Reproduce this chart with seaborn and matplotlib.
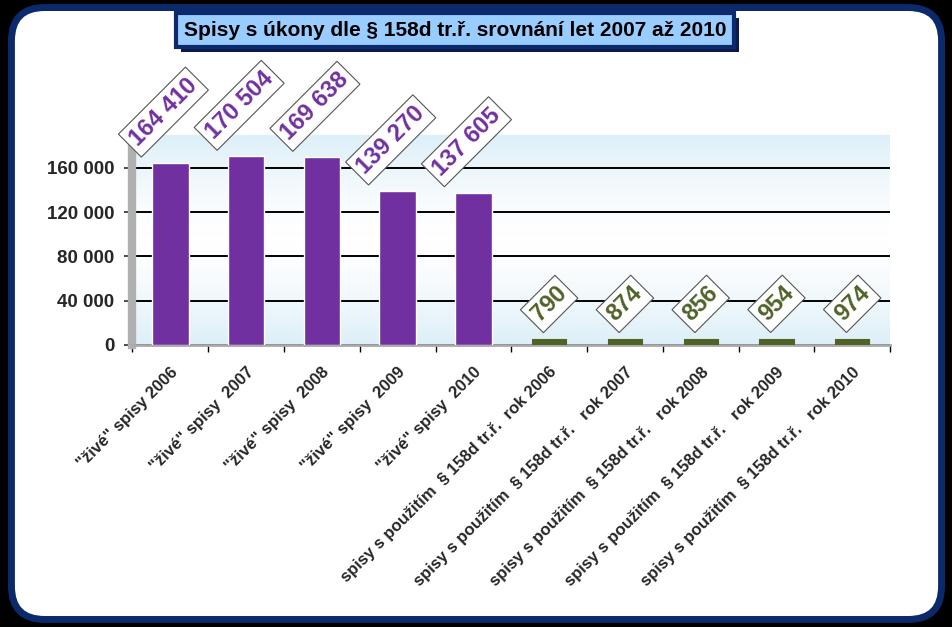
import matplotlib
matplotlib.use("Agg")
import matplotlib.pyplot as plt
from matplotlib.patches import FancyBboxPatch, Rectangle
from matplotlib.ticker import FixedLocator, FuncFormatter
import numpy as np
import pandas as pd
import seaborn as sns

# data
kategorie = [
    '"živé" spisy 2006',
    '"živé" spisy  2007',
    '"živé" spisy  2008',
    '"živé" spisy  2009',
    '"živé" spisy  2010',
    'spisy s použitím  § 158d tr.ř.  rok 2006',
    'spisy s použitím  § 158d tr.ř.   rok 2007',
    'spisy s použitím  § 158d tr.ř.   rok 2008',
    'spisy s použitím  § 158d tr.ř.   rok 2009',
    'spisy s použitím  § 158d tr.ř.   rok 2010',
]
hodnoty = [164410, 170504, 169638, 139270, 137605, 790, 874, 856, 954, 974]
skupina = ["živé"] * 5 + ["158d"] * 5
popisky = ["164 410", "170 504", "169 638", "139 270", "137 605",
           "790", "874", "856", "954", "974"]
y_ticky = [0, 40000, 80000, 120000, 160000]

titulek = "Spisy s úkony dle § 158d tr.ř. srovnání let 2007 až 2010"

FIALOVA = "#7030A0"
ZELENA = "#4F6228"
barvy = {"živé": FIALOVA, "158d": ZELENA}

df = pd.DataFrame({"kategorie": kategorie, "hodnota": hodnoty, "skupina": skupina})

sns.set_theme(style="white")
plt.rcParams["font.family"] = ["Liberation Sans", "DejaVu Sans"]

W, H = 953, 627
fig = plt.figure(figsize=(W / 100, H / 100), dpi=100, facecolor="black")

# rounded white panel
panel = FancyBboxPatch((0.012, 0.012), 0.976, 0.976,
                       boxstyle="round,pad=0,rounding_size=0.035",
                       transform=fig.transFigure, fc="white", ec="#0B2A6B",
                       lw=5, zorder=-10, mutation_aspect=W / H)
fig.patches.append(panel)

ax = fig.add_axes([0.139, 0.45, 0.795, 0.335])
ax.set_facecolor("none")
ax.set_zorder(2)

# light blue gradient wall
grad = np.abs(np.linspace(-1, 1, 200)).reshape(-1, 1) ** 1.5
ax.imshow(grad, extent=[0, 1, 0, 1], transform=ax.transAxes, aspect="auto",
          interpolation="bilinear",
          cmap=matplotlib.colors.LinearSegmentedColormap.from_list(
              "stena", ["#FFFFFF", "#DCEFF8"]), zorder=0)

sns.barplot(data=df, x="kategorie", y="hodnota", hue="skupina",
            palette=barvy, dodge=False, width=0.48, legend=False,
            saturation=1, ax=ax, zorder=3)
# the tiny bars are shown as flat slabs, like the 3D floor tiles in the original
for bar in ax.patches:
    if bar.get_height() < 5000:
        stred = bar.get_x() + bar.get_width() / 2
        bar.set_width(0.32)
        bar.set_x(stred - 0.16)
        bar.set_edgecolor(bar.get_facecolor())
        bar.set_linewidth(8)

ax.set_ylim(0, 190000)
ax.set_xlim(-0.5, len(kategorie) - 0.5)
ax.yaxis.set_major_locator(FixedLocator(y_ticky))
ax.yaxis.set_major_formatter(FuncFormatter(lambda v, p: f"{int(v):,}".replace(",", " ")))
for y in y_ticky:
    ax.axhline(y, color="black", lw=1.4, zorder=1)

ax.set_xlabel("")
ax.set_ylabel("")
ax.tick_params(axis="y", labelsize=13.5, length=6, color="#333333", left=True, pad=7)
for lab in ax.get_yticklabels():
    lab.set_fontweight("bold")

ax.set_xticks(range(len(kategorie)))
ax.set_xticklabels(kategorie, rotation=45, ha="right", rotation_mode="anchor",
                   fontsize=12, fontweight="bold")
ax.tick_params(axis="x", length=0, pad=14)
ax.set_xticks(np.arange(-0.5, len(kategorie)), minor=True)
ax.tick_params(axis="x", which="minor", length=5, color="black", bottom=True)

for side in ["top", "right"]:
    ax.spines[side].set_visible(False)
ax.spines["left"].set_color("#B0B0B0")
ax.spines["left"].set_linewidth(6)
ax.spines["bottom"].set_color("#A9A9A9")
ax.spines["bottom"].set_linewidth(2)

# value labels in rotated boxes
for i, (v, txt, sk) in enumerate(zip(hodnoty, popisky, skupina)):
    posun = (31.75 + 2.75 * len(txt)) * 0.72
    ax.annotate(txt, xy=(i, v), xytext=(-5 if sk == "živé" else 0, posun),
                textcoords="offset points", ha="center", va="center",
                rotation=45, fontsize=17, fontweight="bold",
                color=FIALOVA if sk == "živé" else ZELENA, zorder=5,
                annotation_clip=False,
                bbox=dict(boxstyle="square,pad=0.2", fc="white", ec="#555555", lw=0.8))

# title box with shadow
x0, y0, x1, y1 = 176, 13, 734, 47
fig.patches.append(Rectangle((x0 / W + 0.005, 1 - (y1 + 5) / H), (x1 - x0) / W, (y1 - y0) / H,
                             transform=fig.transFigure, fc="#0B1A4A", ec="none", zorder=1))
fig.patches.append(Rectangle((x0 / W, 1 - y1 / H), (x1 - x0) / W, (y1 - y0) / H,
                             transform=fig.transFigure, fc="#99CCFF", ec="#0B2A6B",
                             lw=3, zorder=2))
fig.text((x0 + x1) / 2 / W, 1 - (y0 + y1) / 2 / H, titulek, ha="center", va="center",
         fontsize=15, fontweight="bold", color="black", zorder=3)

fig.savefig("out.png", dpi=100, facecolor=fig.get_facecolor())
